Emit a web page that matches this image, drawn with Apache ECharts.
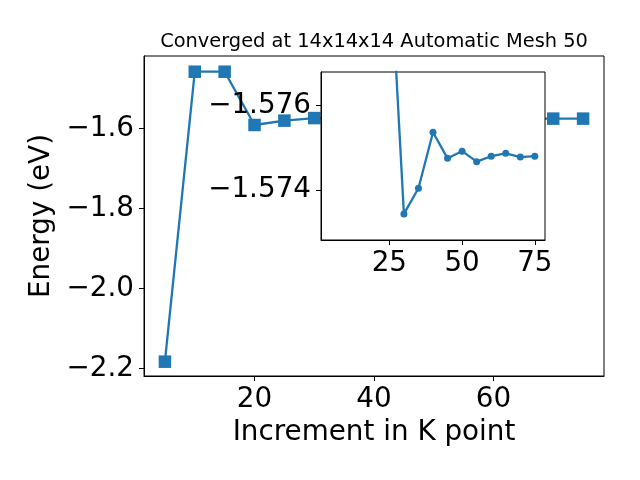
<!DOCTYPE html>
<html>
<head>
<meta charset="utf-8">
<script src="https://cdn.jsdelivr.net/npm/echarts@6/dist/echarts.min.js"></script>
<style>html,body{margin:0;padding:0;background:#fff}#c{width:640px;height:480px}</style>
</head>
<body>
<div id="c"></div>
<script>
const kPoints = [5, 10, 15, 20, 25, 30, 35, 40, 45, 50, 55, 60, 65, 70, 75];
const energy = [-2.1825, -1.4575, -1.4575, -1.5907, -1.5798, -1.57343, -1.57404, -1.57537, -1.57475, -1.57492, -1.57467, -1.5748, -1.57487, -1.57478, -1.5748];
const insetStart = 4; // inset shows points from 25 onward
const mainXTicks = [20, 40, 60];
const mainYTicks = [-2.2, -2.0, -1.8, -1.6];
const insetXTicks = [25, 50, 75];
const insetYTicks = [-1.576, -1.574];
const titleText = 'Converged at 14x14x14 Automatic Mesh 50';
const xName = 'Increment in K point';
const yName = 'Energy (eV)';

const FONT = 'DejaVu Sans';
const BLUE = '#1f77b4';
const fmt = d => v => (v < 0 ? '\u2212' : '') + Math.abs(v).toFixed(d);
const pts = kPoints.map((k, i) => [k, energy[i]]);
const insetPts = pts.slice(insetStart);

const chart = echarts.init(document.getElementById('c'), null, {renderer: 'canvas'});
const tickStyle = {show: true, inside: false, length: 5, lineStyle: {color: '#000', width: 1}};
const lblStyle = {color: '#000', fontFamily: FONT, fontSize: 27.8, margin: 10};

chart.setOption({
  animation: false,
  backgroundColor: '#fff',
  graphic: [{
    type: 'text', x: 374, y: 42, z: 100,
    style: {text: titleText, fill: '#000', font: '19.4px "DejaVu Sans"', textAlign: 'center', textVerticalAlign: 'middle'}
  }],
  grid: [
    {left: 144, top: 56, width: 460, height: 320, show: true, borderColor: '#000', borderWidth: 1, backgroundColor: '#fff', z: 0},
    {left: 321, top: 72, width: 224, height: 168, show: true, borderColor: '#000', borderWidth: 1, backgroundColor: '#fff', z: 10}
  ],
  xAxis: [
    {type: 'value', gridIndex: 0, min: 1.5, max: 78.5, splitLine: {show: false},
     axisLine: {show: true, lineStyle: {color: '#000', width: 1}},
     axisTick: Object.assign({customValues: mainXTicks}, tickStyle),
     axisLabel: Object.assign({customValues: mainXTicks, formatter: v => String(v)}, lblStyle),
     name: xName, nameLocation: 'middle', nameGap: 42,
     nameTextStyle: {color: '#000', fontFamily: FONT, fontSize: 27.8}},
    {type: 'value', gridIndex: 1, min: 1.5, max: 78.5, splitLine: {show: false}, z: 11,
     axisLine: {show: true, lineStyle: {color: '#000', width: 1}},
     axisTick: Object.assign({customValues: insetXTicks}, tickStyle),
     axisLabel: Object.assign({customValues: insetXTicks, formatter: v => String(v)}, lblStyle)}
  ],
  yAxis: [
    {type: 'value', gridIndex: 0, min: -2.2183, max: -1.4182, splitLine: {show: false},
     axisLine: {show: true, lineStyle: {color: '#000', width: 1}},
     axisTick: Object.assign({customValues: mainYTicks}, tickStyle),
     axisLabel: Object.assign({customValues: mainYTicks, formatter: fmt(1)}, lblStyle),
     name: yName, nameLocation: 'middle', nameGap: 78, nameRotate: 90,
     nameTextStyle: {color: '#000', fontFamily: FONT, fontSize: 27.8}},
    {type: 'value', gridIndex: 1, min: -1.5768, max: -1.57281, inverse: true, splitLine: {show: false}, z: 11,
     axisLine: {show: true, lineStyle: {color: '#000', width: 1}},
     axisTick: Object.assign({customValues: insetYTicks}, tickStyle),
     axisLabel: Object.assign({customValues: insetYTicks, formatter: fmt(3)}, lblStyle)}
  ],
  series: [
    {type: 'line', xAxisIndex: 0, yAxisIndex: 0, data: pts, z: 2, clip: true,
     symbol: 'rect', symbolSize: 12.5, showAllSymbol: true,
     lineStyle: {color: BLUE, width: 2.3}, itemStyle: {color: BLUE}},
    {type: 'line', xAxisIndex: 1, yAxisIndex: 1, data: insetPts, z: 12, clip: true,
     symbol: 'circle', symbolSize: 7, showAllSymbol: true,
     lineStyle: {color: BLUE, width: 2.3}, itemStyle: {color: BLUE}}
  ]
});
</script>
</body>
</html>
